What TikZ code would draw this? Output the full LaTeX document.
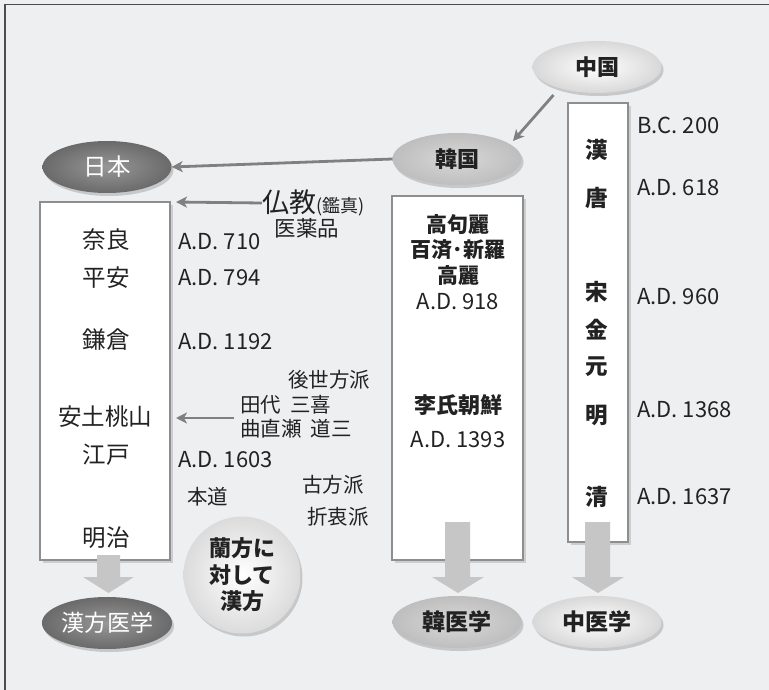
\documentclass[tikz,border=0pt]{standalone}
\usepackage{fontspec}
\setmainfont{Noto Sans CJK JP}
\usetikzlibrary{shapes.geometric,arrows.meta,shadows}
\definecolor{bg}{HTML}{EEEFF1}
\definecolor{linegray}{HTML}{808080}
\definecolor{boxline}{HTML}{8E8E8E}
\definecolor{blockfill}{HTML}{C6C6C6}
\definecolor{darkell}{HTML}{6A6A6A}
\definecolor{midell}{HTML}{BEBEBE}
\definecolor{lightell}{HTML}{D8D8D8}
\definecolor{txt}{HTML}{222222}
\tikzset{
  oval/.style={ellipse, minimum width=129pt, minimum height=52pt, inner sep=0pt,
    drop shadow={opacity=0.35, shadow xshift=2pt, shadow yshift=-3pt}},
  darkoval/.style={oval, shading=radial, inner color=darkell!70!white, outer color=darkell, text=white},
  midoval/.style={oval, shading=radial, inner color=midell!60!white, outer color=midell, text=txt},
  lightoval/.style={oval, shading=radial, inner color=white, outer color=lightell, text=txt},
  era/.style={text=txt, font=\fontsize{23.5}{27}\selectfont, inner sep=0pt},
  date/.style={text=txt, font=\fontsize{22}{26}\selectfont, inner sep=0pt, anchor=west},
  boldera/.style={text=txt, font=\fontsize{21}{25}\selectfont\bfseries, inner sep=0pt},
  note/.style={text=txt, font=\fontsize{20.5}{24}\selectfont, inner sep=0pt},
  timebox/.style={draw=boxline, line width=1.6pt, fill=white, inner sep=0pt,
    drop shadow={opacity=0.3, shadow xshift=3pt, shadow yshift=-3pt}},
  thinarrow/.style={draw=linegray, line width=2.8pt, -{Stealth[length=11pt, width=11pt, inset=3pt]}},
  blockarrow/.style={fill=blockfill, draw=none}
}
\begin{document}
\begin{tikzpicture}[x=1pt, y=-1pt]
\fill[bg] (0,0) rectangle (769,690);
\useasboundingbox (0,0) rectangle (769,690);
\draw[line width=1.3pt, draw=black!70] (5,690) -- (5,4.5) -- (769,4.5);

% boxes
\node[timebox, minimum width=130pt, minimum height=358pt] (jbox) at (105,381) {};
\node[timebox, minimum width=131pt, minimum height=364pt] (kbox) at (457.5,378) {};
\node[timebox, minimum width=60pt, minimum height=439pt] (cbox) at (598,322.5) {};

% ovals top
\node[lightoval] (chn) at (597,67) {\fontsize{22}{26}\selectfont\bfseries 中国};
\node[midoval] (kor) at (457,159) {\fontsize{22}{26}\selectfont\bfseries 韓国};
\node[darkoval] (jpn) at (107,167) {\fontsize{23.5}{26}\selectfont 日本};

% thin arrows
\coordinate (jboxin1) at (176,202);
\coordinate (jboxin2) at (176,418);
\draw[thinarrow] (553.5,95) -- (513,141);
\draw[thinarrow] (kor.west) -- (jpn.east);
\node[text=txt, inner sep=0pt, anchor=west] (bukkyo) at (262,203) {\fontsize{27}{30}\selectfont 仏教\fontsize{18}{20}\selectfont(鑑真)};
\draw[thinarrow] (bukkyo.west) -- (jboxin1);
\node[note, font=\fontsize{21.5}{25}\selectfont] (iyaku) at (307,228) {医薬品};

% Japan eras
\node[era] (nara) at (106,240) {奈良};
\node[era] (heian) at (106,278) {平安};
\node[era] (kama) at (106,340) {鎌倉};
\node[era] (azu) at (105,417) {安土桃山};
\node[era] (edo) at (106,455) {江戸};
\node[era] (meiji) at (106,538) {明治};
\node[date] (d710) at (178,242) {A.D. 710};
\node[date] (d794) at (178,278) {A.D. 794};
\node[date] (d1192) at (178,342) {A.D. 1192};
\node[date] (d1603) at (178,460) {A.D. 1603};

\node[note, anchor=west] (gose) at (288,380) {後世方派};
\node[note, anchor=west] (tashiro) at (240,405) {田代\hspace{0.45em}三喜};
\node[note, anchor=west] (manase) at (240,429) {曲直瀬\hspace{0.45em}道三};
\coordinate (arrstart) at (234,418);
\draw[thinarrow] (arrstart) -- (jboxin2);
\node[note, anchor=west] (kohou) at (302,485) {古方派};
\node[note, anchor=west] (hondo) at (187,497) {本道};
\node[note, anchor=west] (secchu) at (307,517) {折衷派};

% circle
\node[circle, minimum size=117pt, inner sep=0pt, shading=radial, inner color=white, outer color=black!14,
  drop shadow={opacity=0.35, shadow xshift=2pt, shadow yshift=-3pt},
  align=center, text=txt, font=\fontsize{22}{26.5}\selectfont\bfseries] (ranpo) at (242,575) {蘭方に\\対して\\漢方};

% Korea
\node[boldera] (goguryeo) at (458,225) {高句麗};
\node[boldera] (baekje) at (458,250) {百済･新羅};
\node[boldera] (goryeo) at (458,276) {高麗};
\node[text=txt, inner sep=0pt, font=\fontsize{22}{26}\selectfont] (d918) at (458,302) {A.D. 918};
\node[boldera, font=\fontsize{22}{26}\selectfont\bfseries] (joseon) at (458,405) {李氏朝鮮};
\node[text=txt, inner sep=0pt, font=\fontsize{22}{26}\selectfont] (d1393) at (458,440) {A.D. 1393};

% China
\foreach \n/\ch/\yy in {han/漢/150, tang/唐/198, song/宋/292, jin/金/330, yuan/元/367, ming/明/415, qing/清/497}
  \node[boldera, font=\fontsize{22.5}{26}\selectfont\bfseries] (\n) at (597,\yy) {\ch};
\node[date] (bc200) at (637,125) {B.C. 200};
\node[date] (d618) at (637,188) {A.D. 618};
\node[date] (d960) at (637,297) {A.D. 960};
\node[date] (d1368) at (637,410) {A.D. 1368};
\node[date] (d1637) at (637,497) {A.D. 1637};

% block arrows
\fill[blockfill] (97,555) -- (120,555) -- (120,577) -- (134,577) -- (108.5,593) -- (83,577) -- (97,577) -- cycle;
\fill[blockfill] (445,522) -- (470,522) -- (470,577) -- (484,577) -- (458,593) -- (432,577) -- (445,577) -- cycle;
\fill[blockfill] (585,522) -- (610,522) -- (610,577) -- (624,577) -- (598,593) -- (572,577) -- (585,577) -- cycle;

% bottom ovals
\node[darkoval] (kampo) at (107,623) {\fontsize{23}{26}\selectfont 漢方医学};
\node[midoval] (kanui) at (457,622) {\fontsize{23}{26}\selectfont\bfseries 韓医学};
\node[lightoval] (chui) at (597,622) {\fontsize{23}{26}\selectfont\bfseries 中医学};
\end{tikzpicture}
\end{document}
